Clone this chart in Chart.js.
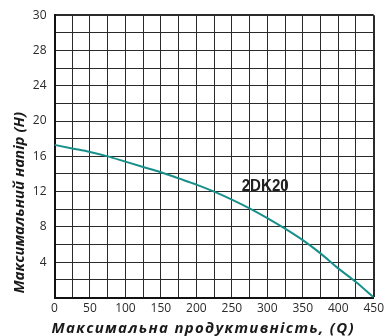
<!DOCTYPE html>
<html>
<head>
<meta charset="utf-8">
<script src="https://cdn.jsdelivr.net/npm/chart.js@4"></script>
<style>
  html, body { margin: 0; padding: 0; background: #fff; }
  #wrap { width: 388px; height: 336px; }
</style>
</head>
<body>
<div id="wrap"><canvas id="pumpCurve"></canvas></div>
<script>
const FLOW = [0, 25, 50, 75, 100, 125, 150, 175, 200, 225, 250, 275, 300, 325, 350, 375, 400, 425, 450]
const HEAD = [17.3, 16.9, 16.5, 16.0, 15.4, 14.8, 14.2, 13.5, 12.8, 12.0, 11.1, 10.1, 9.0, 7.8, 6.5, 5.0, 3.3, 1.75, 0]
const X_TICK_LABELS = ['0', '', '50', '', '100', '', '150', '', '200', '', '250', '', '300', '', '350', '', '400', '', '450']
const Y_TICK_LABELS = ['', '', '4', '', '8', '', '12', '', '16', '', '20', '', '24', '', '28', '', '30']
const SERIES_NAME = '2DK20'
const X_TITLE = 'Максимальна продуктивність, (Q)'
const Y_TITLE = 'Максимальний напір (H)'
const CURVE_LABEL_AT = { x: 297, y: 12.6 }

const TEAL = '#17908b'
const GRID = '#2a2a2a'

// curve name on the plot + the wide x-axis title (needs letter spacing)
const extraText = {
  id: 'extraText',
  afterDraw(chart) {
    const { ctx, scales, chartArea } = chart
    const px = scales.x.getPixelForValue(CURVE_LABEL_AT.x)
    const py = scales.y.getPixelForValue(CURVE_LABEL_AT.y)
    ctx.save()
    ctx.font = 'bold 17px "Liberation Sans", Arial, sans-serif'
    ctx.fillStyle = '#222'
    ctx.textAlign = 'center'
    ctx.textBaseline = 'middle'
    ctx.fillText(SERIES_NAME, px, py, 47)

    ctx.font = 'italic bold 15px "Open Sans", sans-serif'
    ctx.letterSpacing = '1.3px'
    ctx.fillStyle = '#1a1a1a'
    ctx.textAlign = 'left'
    ctx.textBaseline = 'alphabetic'
    ctx.fillText(X_TITLE, chartArea.left - 3, 333)
    ctx.restore()
  }
}

var pumpData = {
  datasets: [{
    label: SERIES_NAME,
    data: FLOW.map((q, i) => ({ x: q, y: HEAD[i] })),
    borderColor: TEAL,
    borderWidth: 2,
    pointRadius: 0,
    cubicInterpolationMode: 'monotone',
    fill: false
  }]
}

var pumpOptions = {
  responsive: true,
  maintainAspectRatio: false,
  animation: false,
  layout: { padding: { top: 11, right: 10, left: 0, bottom: 0 } },
  scales: {
    x: {
      type: 'linear',
      min: 0,
      max: 450,
      afterBuildTicks: scale => {
        scale.ticks = FLOW.map(v => ({ value: v }))
      },
      afterFit: scale => { scale.height = 38.5 },
      ticks: {
        autoSkip: false,
        maxRotation: 0,
        padding: 4,
        color: '#2a2a2a',
        font: { family: '"Open Sans", sans-serif', size: 12 },
        callback: (value, index) => X_TICK_LABELS[index]
      },
      grid: {
        drawTicks: false,
        color: GRID,
        lineWidth: ctx => (ctx.tick && ctx.tick.value === 450 ? 2 : 1)
      },
      border: { color: '#111', width: 2 }
    },
    y: {
      type: 'linear',
      min: 0,
      max: 32,
      afterBuildTicks: scale => {
        scale.ticks = Y_TICK_LABELS.map((t, i) => ({ value: i * 2 }))
      },
      afterFit: scale => { scale.width = 54.5 },
      ticks: {
        autoSkip: false,
        padding: 8,
        color: '#2a2a2a',
        font: { family: '"Open Sans", sans-serif', size: 12 },
        callback: (value, index) => Y_TICK_LABELS[index]
      },
      grid: {
        drawTicks: false,
        color: GRID,
        lineWidth: ctx => (ctx.tick && ctx.tick.value === 32 ? 2 : 1)
      },
      border: { color: '#111', width: 2 },
      title: {
        display: true,
        text: ' ' + Y_TITLE,
        align: 'start',
        color: '#1a1a1a',
        font: { family: '"Open Sans", sans-serif', size: 15, weight: 'bold', style: 'italic' },
        padding: { top: 11, bottom: 0 }
      }
    }
  },
  plugins: {
    legend: { display: false },
    tooltip: { enabled: false }
  }
}

const pumpChart = new Chart(document.getElementById('pumpCurve'), {
  type: 'line',
  data: pumpData,
  plugins: [extraText],
  options: pumpOptions
})
</script>
</body>
</html>
